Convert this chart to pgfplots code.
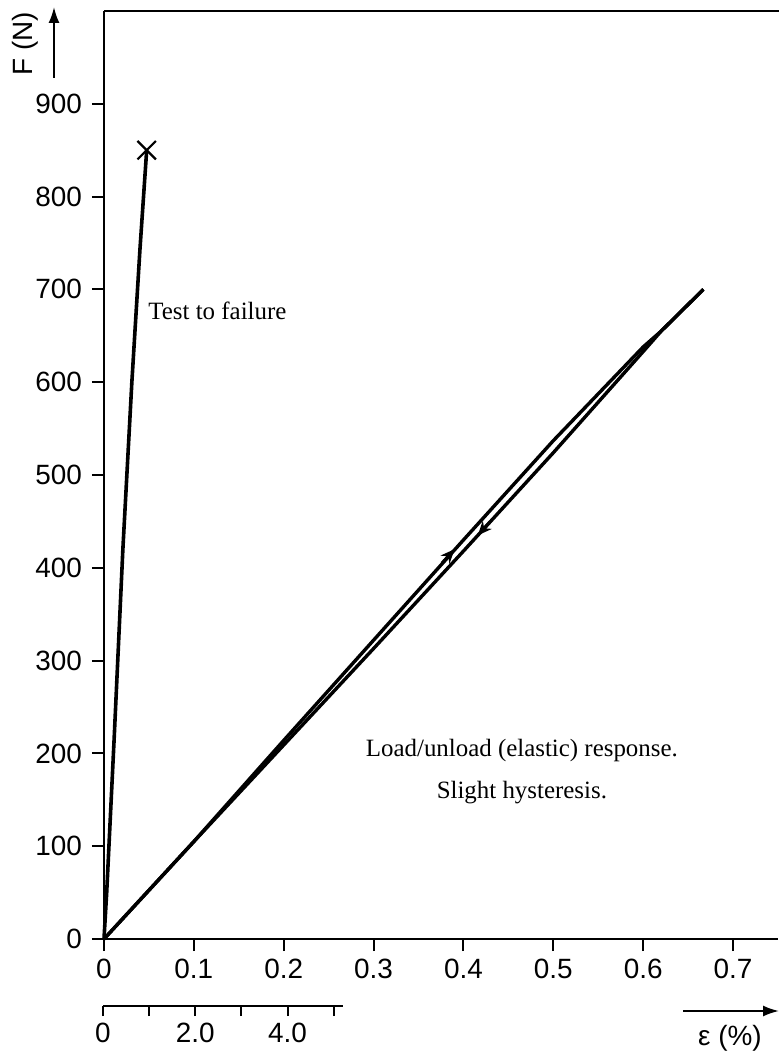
\documentclass[border=0pt]{standalone}
\usepackage{fontspec}
\setmainfont{Liberation Sans}
\newfontfamily\tnr{Liberation Serif}
\usepackage{pgfplots}
\pgfplotsset{compat=1.18}
\usetikzlibrary{arrows.meta}
\begin{document}
\begin{tikzpicture}
\path[use as bounding box] (-52bp,-57.5bp) rectangle (337.5bp,469.5bp);
\begin{axis}[
  at={(0,0)}, anchor=south west,
  scale only axis, width=337bp, height=464bp,
  xmin=0, xmax=0.75, ymin=0, ymax=1000,
  axis x line*=bottom, axis y line*=left,
  axis line style={line width=1bp},
  tick style={line width=1bp, black},
  tick align=outside, major tick length=6bp,
  xtick={0,0.1,0.2,0.3,0.4,0.5,0.6,0.7},
  xticklabels={0,0.1,0.2,0.3,0.4,0.5,0.6,0.7},
  ytick={0,100,200,300,400,500,600,700,800,900},
  yticklabels={0,100,200,300,400,500,600,700,800,900},
  tick label style={font=\fontsize{14}{16}\selectfont},
  yticklabel style={xshift=-1.5bp},
  xticklabel style={yshift=-0.5bp},
  /pgf/number format/assume math mode=true,
  clip=false,
]
\draw[line width=1bp] (rel axis cs:0,1) -- (rel axis cs:1.01,1);
% test to failure
\addplot[line width=1.8bp, black] coordinates {(0,0)(0.003,50)(0.0115,220)(0.021,420)(0.031,600)(0.040,743)(0.0475,850)};
\addplot[only marks, mark=x, mark size=6.5bp, mark options={line width=1.1bp}, black] coordinates {(0.0475,850)};
% loading
\addplot[line width=1.7bp, black] coordinates {(0,0)(0.1,105)(0.2,214)(0.3,322)(0.4,430)(0.5,537)(0.6,638)(0.62,655)(0.667,700)};
% unloading
\addplot[line width=1.7bp, black] coordinates {(0.667,700)(0.62,655)(0.6,633)(0.5,524)(0.4,418)(0.3,313)(0.2,209)(0.1,105)(0,0)};
\addplot[line width=1.5bp, black, -{Stealth[length=7bp,width=6bp]}] coordinates {(0.376,405)(0.390,420)};
\addplot[line width=1.5bp, black, -{Stealth[length=7bp,width=6bp]}] coordinates {(0.430,450)(0.416,435)};
\node[font=\tnr\fontsize{12.5}{14}\selectfont, anchor=base west, inner sep=0] at (axis cs:0.049,668) {Test to failure};
\node[font=\tnr\fontsize{12.5}{14}\selectfont, inner sep=0] at (axis cs:0.465,203) {Load/unload (elastic) response.};
\node[font=\tnr\fontsize{12.5}{14}\selectfont, inner sep=0] at (axis cs:0.465,157.5) {Slight hysteresis.};
\end{axis}
\begin{axis}[
  at={(-0.5bp,-33.5bp)}, anchor=south west,
  scale only axis, width=120bp, height=10bp,
  xmin=0, xmax=5.2, ymin=0, ymax=1,
  axis x line*=bottom, hide y axis,
  axis line style={line width=1bp},
  tick style={line width=1bp, black},
  tick align=outside, major tick length=5bp,
  xtick={0,1,2,3,4,5},
  xticklabels={0,,2.0,,4.0,},
  tick label style={font=\fontsize{14}{16}\selectfont},
  /pgf/number format/assume math mode=true,
]
\end{axis}
\node[rotate=90, font=\fontsize{14}{16}\selectfont] at (-39.5bp,447.5bp) {F (N)};
\draw[line width=1bp, -{Latex[length=8bp,width=5.5bp]}] (-25bp,430.5bp) -- (-25bp,466bp);
\draw[line width=1bp, -{Latex[length=8bp,width=5.5bp]}] (289.5bp,-36bp) -- (337.5bp,-36bp);
\node[font=\fontsize{14}{16}\selectfont] at (313bp,-49.5bp) {ε (\%)};
\end{tikzpicture}
\end{document}
